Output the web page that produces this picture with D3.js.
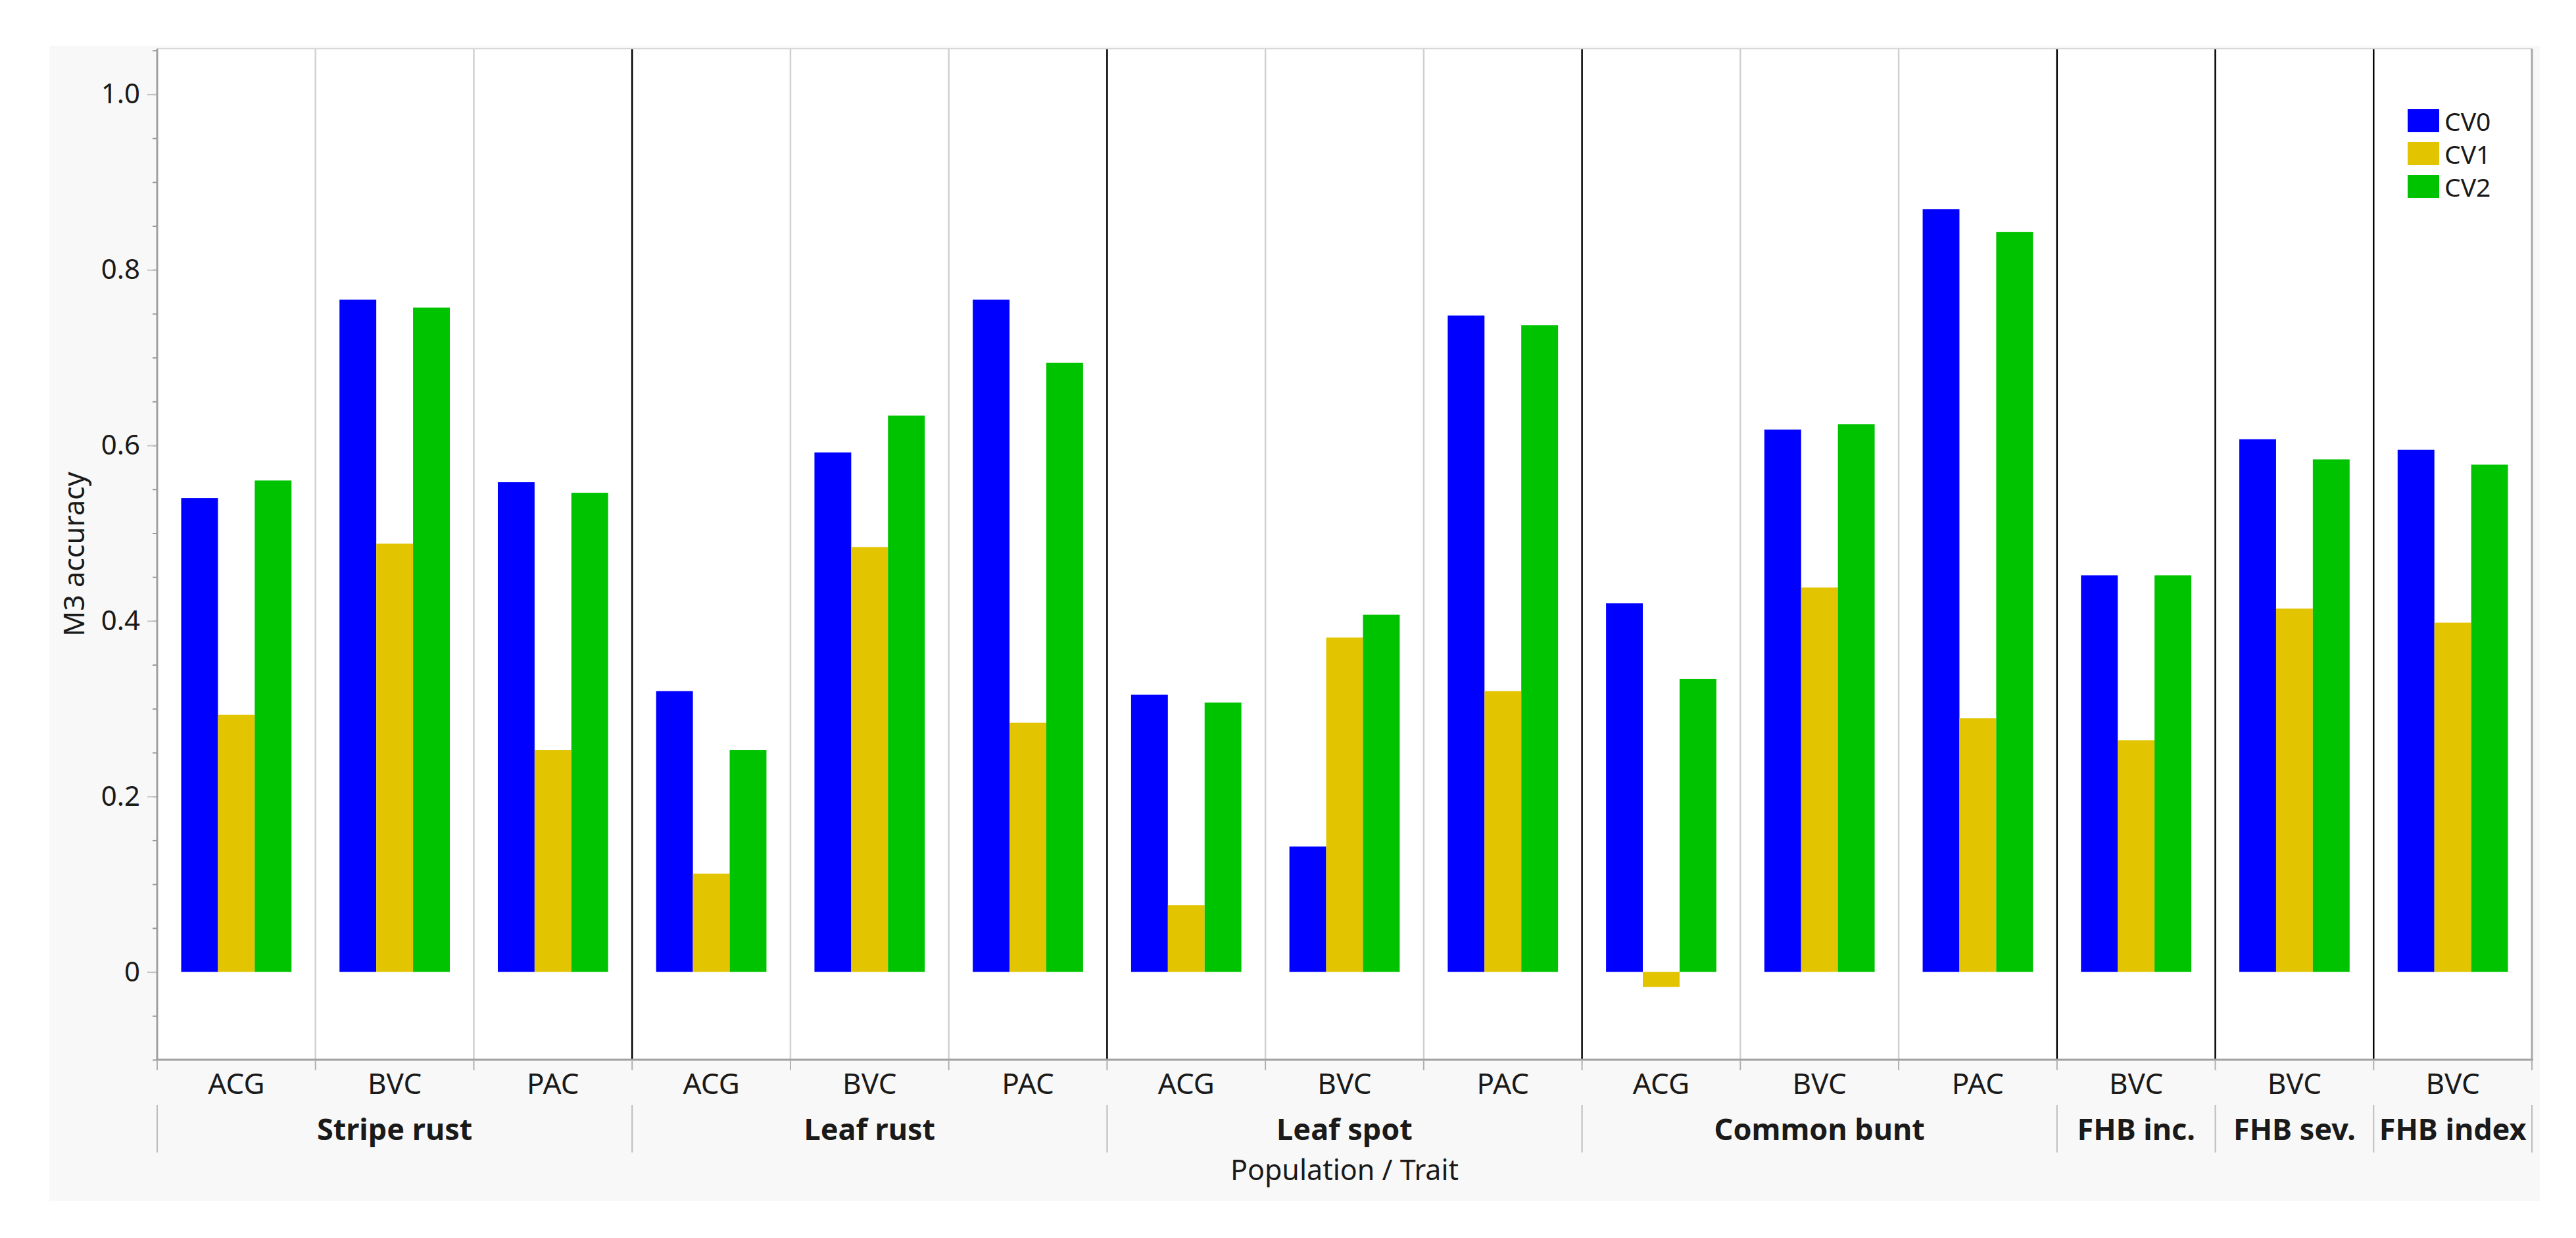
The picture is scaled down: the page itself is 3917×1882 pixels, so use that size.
<!DOCTYPE html>
<html>
<head>
<meta charset="utf-8">
<script src="https://cdn.jsdelivr.net/npm/d3@7"></script>
<style>
	body { margin: 0; background: #ffffff; }
	text { font-family: "Noto Sans", "Open Sans", sans-serif; fill: #1a1a1a; }
</style>
</head>
<body>
<svg id="chart" width="3917" height="1882"></svg>
<script>
// Data
//-----------------------------------------------------------//
const traits = ["Stripe rust", "Leaf rust", "Leaf spot", "Common bunt", "FHB inc.", "FHB sev.", "FHB index"];
const traitSize = [3, 3, 3, 3, 1, 1, 1];
const populations = ["ACG", "BVC", "PAC", "ACG", "BVC", "PAC", "ACG", "BVC", "PAC", "ACG", "BVC", "PAC", "BVC", "BVC", "BVC"];

const cv0 = [0.540, 0.766, 0.558, 0.320, 0.592, 0.766, 0.316, 0.143, 0.748, 0.420, 0.618, 0.869, 0.452, 0.607, 0.595];
const cv1 = [0.293, 0.488, 0.253, 0.112, 0.484, 0.284, 0.076, 0.381, 0.320, -0.017, 0.438, 0.289, 0.264, 0.414, 0.398];
const cv2 = [0.560, 0.757, 0.546, 0.253, 0.634, 0.694, 0.307, 0.407, 0.737, 0.334, 0.624, 0.843, 0.452, 0.584, 0.578];

const seriesNames = ["CV0", "CV1", "CV2"];
const seriesColors = ["#0000ff", "#e2c400", "#00c300"];

const yMajor = [0, 0.2, 0.4, 0.6, 0.8, 1.0];
const yLabels = ["0", "0.2", "0.4", "0.6", "0.8", "1.0"];

// Layout
//-----------------------------------------------------------//
const svg = d3.select("#chart");
const plotLeft = 239, plotRight = 3850, plotTop = 74, plotBottom = 1611;

const x = d3.scaleBand()
	.domain(d3.range(populations.length))
	.range([plotLeft, plotRight]);

const inner = d3.scaleBand()
	.domain(seriesNames)
	.range([36.5, x.bandwidth() - 36.5]);

const y = d3.scaleLinear()
	.domain([-0.1, 1.052])
	.range([plotBottom, plotTop]);

const color = d3.scaleOrdinal().domain(seriesNames).range(seriesColors);

// begin en eind index van elke trait
let start = 0;
const traitSpans = traits.map((t, i) => {
	const s = { name: t, from: start, to: start + traitSize[i] };
	start += traitSize[i];
	return s;
});
const traitEdges = new Set(traitSpans.map(d => d.from));

// Achtergrond
//-----------------------------------------------------------//
svg.append("rect")
	.attr("x", 75).attr("y", 70)
	.attr("width", 3787).attr("height", 1756)
	.attr("fill", "#f8f8f8");

svg.append("rect")
	.attr("x", plotLeft).attr("y", plotTop)
	.attr("width", plotRight - plotLeft).attr("height", plotBottom - plotTop)
	.attr("fill", "#ffffff");

// Scheidingslijnen in het plot
//-----------------------------------------------------------//
svg.append("g")
	.selectAll("line")
	.data(d3.range(1, populations.length))
	.join("line")
	.attr("x1", d => x(d)).attr("x2", d => x(d))
	.attr("y1", plotTop).attr("y2", plotBottom)
	.attr("stroke", d => traitEdges.has(d) ? "#000000" : "#d0d0d0")
	.attr("stroke-width", 2.5);

// Bars
//-----------------------------------------------------------//
const values = [cv0, cv1, cv2];
const barData = [];
populations.forEach((p, i) => {
	seriesNames.forEach((s, j) => {
		barData.push({ idx: i, series: s, value: values[j][i] });
	});
});

svg.append("g")
	.selectAll("rect")
	.data(barData)
	.join("rect")
	.attr("x", d => x(d.idx) + inner(d.series))
	.attr("width", inner.bandwidth())
	.attr("y", d => y(Math.max(0, d.value)))
	.attr("height", d => Math.abs(y(d.value) - y(0)))
	.attr("fill", d => color(d.series));

// Y as
//-----------------------------------------------------------//
svg.append("g")
	.attr("transform", `translate(${plotLeft},0)`)
	.call(d3.axisLeft(y).tickValues(d3.range(-0.1, 1.051, 0.05)).tickSize(7).tickFormat(""))
	.call(g => g.select(".domain").remove())
	.call(g => g.selectAll(".tick line").attr("stroke", "#9a9a9a").attr("stroke-width", 2));

svg.append("g")
	.attr("transform", `translate(${plotLeft},0)`)
	.call(d3.axisLeft(y).tickValues(yMajor).tickSize(15).tickPadding(11)
		.tickFormat((d, i) => yLabels[i]))
	.call(g => g.select(".domain").remove())
	.call(g => g.selectAll(".tick line").attr("stroke", "#c4c4c4").attr("stroke-width", 2))
	.call(g => g.selectAll(".tick text")
		.attr("font-size", 42)
		.style("font-family", "'Noto Sans', sans-serif")
		.attr("fill", "#1a1a1a"));

svg.append("text")
	.attr("transform", `translate(128,${(plotTop + plotBottom) / 2}) rotate(-90)`)
	.attr("text-anchor", "middle")
	.attr("font-size", 43)
	.text("M3 accuracy");

// Kader
//-----------------------------------------------------------//
svg.append("line")
	.attr("x1", plotLeft).attr("x2", plotRight).attr("y1", plotTop).attr("y2", plotTop)
	.attr("stroke", "#d8d8d8").attr("stroke-width", 2);
svg.append("line")
	.attr("x1", plotRight).attr("x2", plotRight).attr("y1", plotTop).attr("y2", plotBottom)
	.attr("stroke", "#a8a8a8").attr("stroke-width", 3);
svg.append("line")
	.attr("x1", plotLeft).attr("x2", plotLeft).attr("y1", plotTop).attr("y2", plotBottom)
	.attr("stroke", "#a0a0a0").attr("stroke-width", 3);
svg.append("line")
	.attr("x1", plotLeft - 2).attr("x2", plotRight + 2).attr("y1", plotBottom).attr("y2", plotBottom)
	.attr("stroke", "#a0a0a0").attr("stroke-width", 3);

// X as: populaties
//-----------------------------------------------------------//
svg.append("g")
	.attr("transform", `translate(0,${plotBottom})`)
	.call(d3.axisBottom(x).tickSize(0).tickPadding(0).tickFormat(i => populations[i]))
	.call(g => g.select(".domain").remove())
	.call(g => g.selectAll(".tick text")
		.attr("y", 52)
		.attr("dy", 0)
		.attr("font-size", 44)
		.style("font-family", "'Noto Sans', sans-serif")
		.attr("fill", "#1a1a1a"));

svg.append("g")
	.selectAll("line")
	.data(d3.range(0, populations.length + 1))
	.join("line")
	.attr("x1", d => d < populations.length ? x(d) : plotRight)
	.attr("x2", d => d < populations.length ? x(d) : plotRight)
	.attr("y1", plotBottom).attr("y2", plotBottom + 16)
	.attr("stroke", "#b0b0b0").attr("stroke-width", 2);

// X as: traits
//-----------------------------------------------------------//
const edgeX = i => i < populations.length ? x(i) : plotRight;

svg.append("g")
	.selectAll("line")
	.data(d3.range(0, traits.length + 1))
	.join("line")
	.attr("x1", i => edgeX(i < traits.length ? traitSpans[i].from : populations.length))
	.attr("x2", i => edgeX(i < traits.length ? traitSpans[i].from : populations.length))
	.attr("y1", 1680).attr("y2", 1752)
	.attr("stroke", "#bcbcbc").attr("stroke-width", 2);

svg.append("g")
	.selectAll("text")
	.data(traitSpans)
	.join("text")
	.attr("x", d => (edgeX(d.from) + edgeX(d.to)) / 2)
	.attr("y", 1733)
	.attr("text-anchor", "middle")
	.attr("font-size", 45)
	.attr("font-weight", "bold")
	.text(d => d.name);

svg.append("text")
	.attr("x", (plotLeft + plotRight) / 2)
	.attr("y", 1794)
	.attr("text-anchor", "middle")
	.attr("font-size", 43)
	.text("Population / Trait");

// Legenda
//-----------------------------------------------------------//
const legend = svg.append("g")
	.selectAll("g")
	.data(seriesNames)
	.join("g")
	.attr("transform", (d, i) => `translate(3661,${166 + i * 50})`);

legend.append("rect")
	.attr("width", 48).attr("height", 35)
	.attr("fill", d => color(d));

legend.append("text")
	.attr("x", 56).attr("y", 33)
	.attr("font-size", 39)
	.text(d => d);
</script>
</body>
</html>
